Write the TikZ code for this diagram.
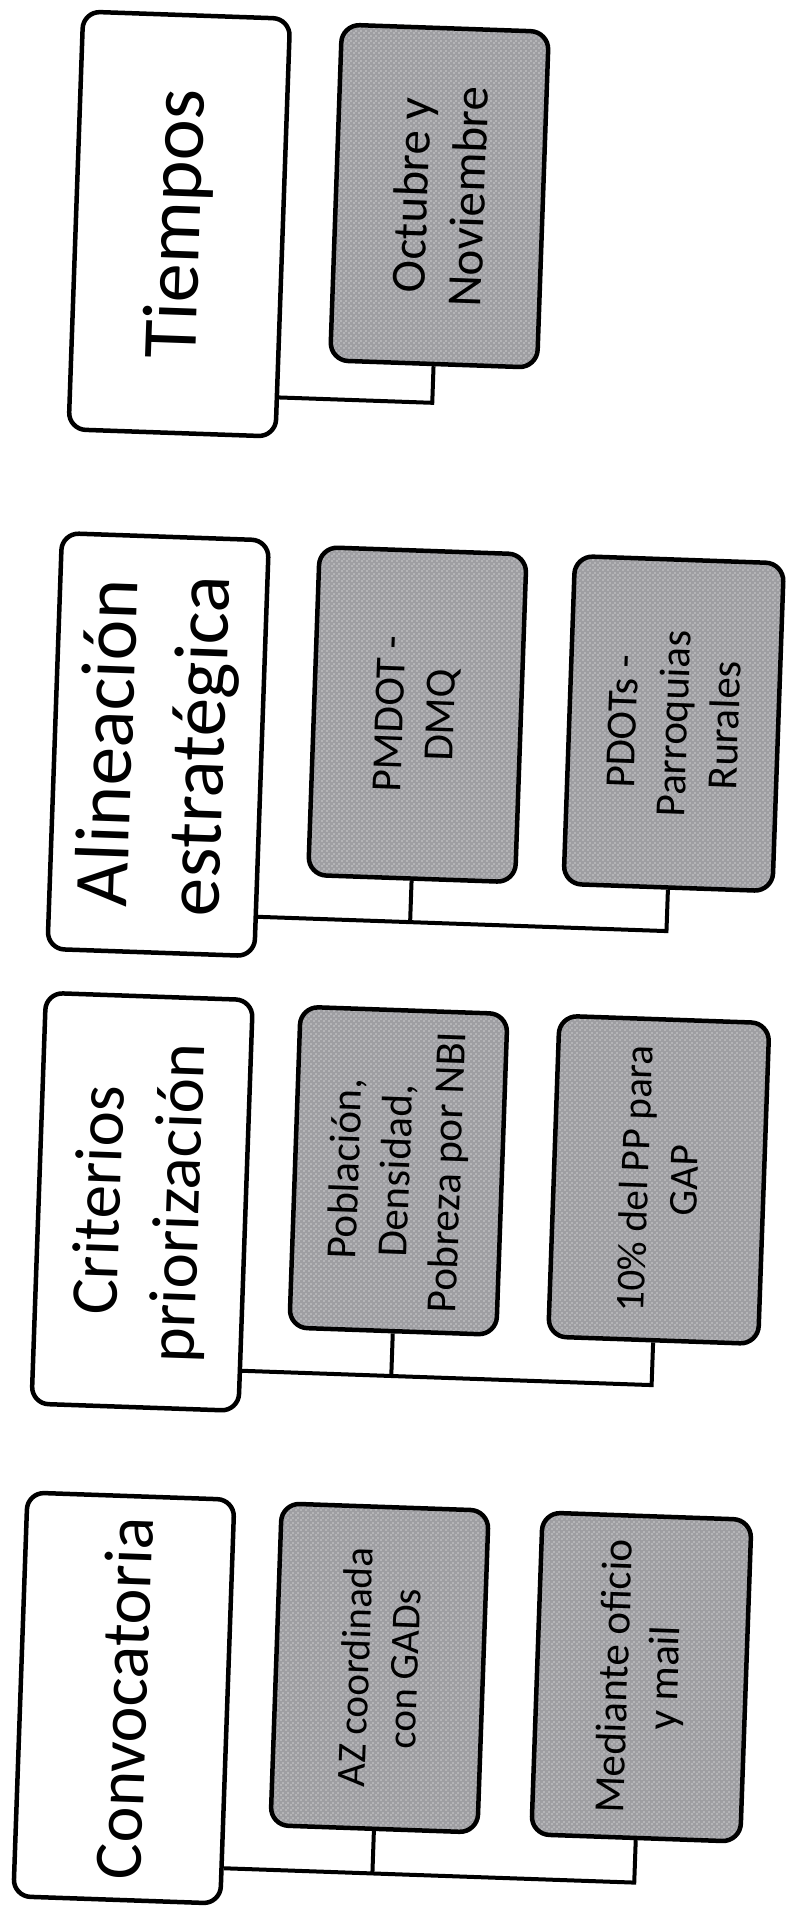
\documentclass[tikz,border=0pt]{standalone}
\usepackage{fontspec}
\setmainfont{Carlito}
\usetikzlibrary{patterns,calc}
\pgfdeclarepatternformonly{speckle}{\pgfqpoint{0pt}{0pt}}{\pgfqpoint{4.5pt}{4.5pt}}{\pgfqpoint{4.5pt}{4.5pt}}{%
  \pgfpathcircle{\pgfqpoint{1.1pt}{1.1pt}}{0.75pt}%
  \pgfpathcircle{\pgfqpoint{3.35pt}{3.35pt}}{0.75pt}%
  \pgfusepath{fill}}
\definecolor{boxgray}{RGB}{158,158,162}
\tikzset{
  hdr/.style={draw=black, line width=4.5pt, rounded corners=17pt, fill=white,
    rotate=90, inner sep=0pt, align=center, minimum height=207pt},
  sub/.style={draw=black, line width=4.5pt, rounded corners=18pt,
    preaction={fill=boxgray}, pattern=speckle, pattern color=white,
    rotate=90, inner sep=0pt, align=center},
  conn/.style={draw=black, line width=4pt},
}
\begin{document}
\begin{tikzpicture}[x=1pt,y=-1pt]
\useasboundingbox (0,0) rectangle (789,1908);
\begin{scope}[rotate around={-2:(395,954)}, transform shape]
% headers
\node[hdr, minimum width=418pt, font=\fontsize{78}{90}\selectfont] (hT) at (154,232)
  {Tiempos};
\node[hdr, minimum width=416pt, font=\fontsize{77}{92}\selectfont] (hA) at (151,753)
  {Alineación\\estratégica};
\node[hdr, minimum width=411pt, font=\fontsize{67}{79}\selectfont] (hC) at (151,1210.5)
  {Criterios\\priorización};
\node[hdr, minimum width=404pt, font=\fontsize{68}{78}\selectfont] (hV) at (150,1707)
  {Convocatoria};
% children
\node[sub, minimum width=336pt, minimum height=207pt, font=\fontsize{49}{57}\selectfont] (cT) at (413,195)
  {Octubre y\\Noviembre};
\node[sub, minimum width=328pt, minimum height=207pt, font=\fontsize{43}{51}\selectfont] (cA1) at (409,714)
  {PMDOT -\\DMQ};
\node[sub, minimum width=328pt, minimum height=209pt, font=\fontsize{43}{51}\selectfont] (cA2) at (665.5,714)
  {PDOTs -\\Parroquias\\Rurales};
\node[sub, minimum width=321pt, minimum height=207pt, font=\fontsize{43}{51}\selectfont] (cC1) at (406,1170.5)
  {Población,\\Densidad,\\Pobreza por NBI};
\node[sub, minimum width=321pt, minimum height=210pt, font=\fontsize{41}{49}\selectfont] (cC2) at (666.5,1170.5)
  {10\% del PP para\\GAP};
\node[sub, minimum width=322pt, minimum height=207pt, font=\fontsize{41}{49}\selectfont] (cV1) at (404.5,1668)
  {AZ coordinada\\con GADs};
\node[sub, minimum width=322pt, minimum height=209pt, font=\fontsize{43}{50}\selectfont] (cV2) at (666.5,1668)
  {Mediante oficio\\y mail};
% connector start points on header right edges
\coordinate (sT) at ($(hT.south east)!0.902!(hT.south west)$);
\coordinate (sA) at ($(hA.south east)!0.901!(hA.south west)$);
\coordinate (sC) at ($(hC.south east)!0.898!(hC.south west)$);
\coordinate (sV) at ($(hV.south east)!0.908!(hV.south west)$);
% connectors
\draw[conn] (sT) -- ($(cT.west)!(sT)!(cT.east)$) -- (cT.west);
\draw[conn] (sA) -- ($(cA2.west)!(sA)!(cA2.east)$) -- (cA2.west);
\draw[conn] (cA1.west) -- ($(cA1.west)!(sA)!(cA1.east)$);
\draw[conn] (sC) -- ($(cC2.west)!(sC)!(cC2.east)$) -- (cC2.west);
\draw[conn] (cC1.west) -- ($(cC1.west)!(sC)!(cC1.east)$);
\draw[conn] (sV) -- ($(cV2.west)!(sV)!(cV2.east)$) -- (cV2.west);
\draw[conn] (cV1.west) -- ($(cV1.west)!(sV)!(cV1.east)$);
\end{scope}
\end{tikzpicture}
\end{document}
